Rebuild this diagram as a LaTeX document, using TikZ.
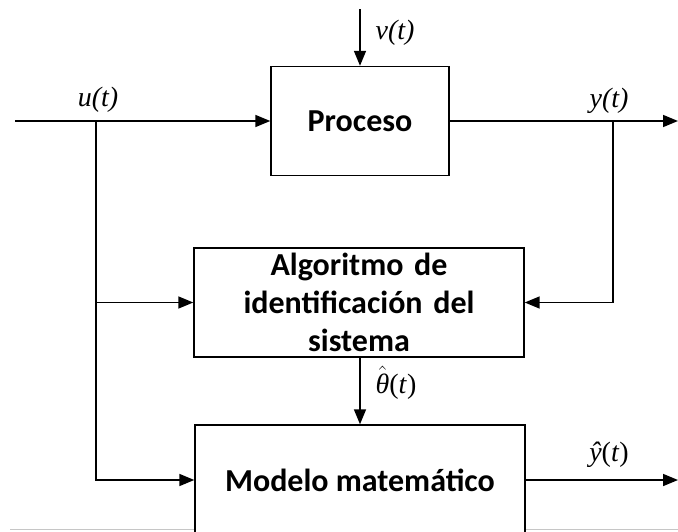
\RequirePackage{fix-cm}
\documentclass[tikz,border=0pt]{standalone}
\usepackage{fontspec}
\setmainfont{Carlito}
\newfontfamily\tms{Liberation Serif}
\usetikzlibrary{arrows.meta}
\tikzset{
  blk/.style={draw=black, line width=1.4pt, fill=white, inner sep=0pt, align=center,
    font=\fontsize{32}{38}\selectfont\bfseries},
  arr/.style={line width=1.6pt, -{Triangle[length=15pt,width=12pt]}},
  lbl/.style={inner sep=0pt, font=\fontsize{28}{30}\selectfont\tms\itshape},
  mlbl/.style={inner sep=0pt, font=\fontsize{28}{30}\selectfont\tms}
}
\begin{document}
\begin{tikzpicture}[x=1pt,y=-1pt]
\useasboundingbox (0,0) rectangle (678,531);
\clip (0,0) rectangle (678,531);
\draw[gray!45, line width=1pt] (10,529) -- (678,529);
% blocks
\node[blk, minimum width=178pt, minimum height=109pt] (proc) at (360,121) {Proceso};
\node[blk, minimum width=330pt, minimum height=109pt, text width=320pt] (alg) at (359,302.5)
  {Algoritmo de\\identificación del\\sistema};
\node[blk, minimum width=330pt, minimum height=110pt] (mod) at (360,480) {Modelo matemático};
% coordinates
\coordinate (in) at (15,121);
\coordinate (out) at (678,121);
\coordinate (vtop) at (360,9);
\coordinate (bu) at (96,121);
\coordinate (by) at (613,121);
\coordinate (yhout) at (678,480);
% connectors
\draw[arr] (in) -- (proc.west);
\draw[arr] (proc.east) -- (out);
\draw[arr] (vtop) -- (proc.north);
\draw[arr] (bu) |- (alg.west);
\draw[arr] (bu) |- (mod.west);
\draw[arr] (by) |- (alg.east);
\draw[arr] (alg.south -| mod.north) -- (mod.north);
\draw[arr] (mod.east) -- (yhout);
% labels
\node[lbl] (lu) at (98,100) {u(t)};
\node[lbl] (lv) at (395,33) {v(t)};
\node[lbl] (ly) at (609,101) {y(t)};
\node[mlbl] (lth) at (396,383) {$\hat{\hbox{\tms\itshape θ}}$(\textit{t})};
\node[mlbl] (lyh) at (609,455) {\textit{ŷ}(\textit{t})};
\end{tikzpicture}
\end{document}
